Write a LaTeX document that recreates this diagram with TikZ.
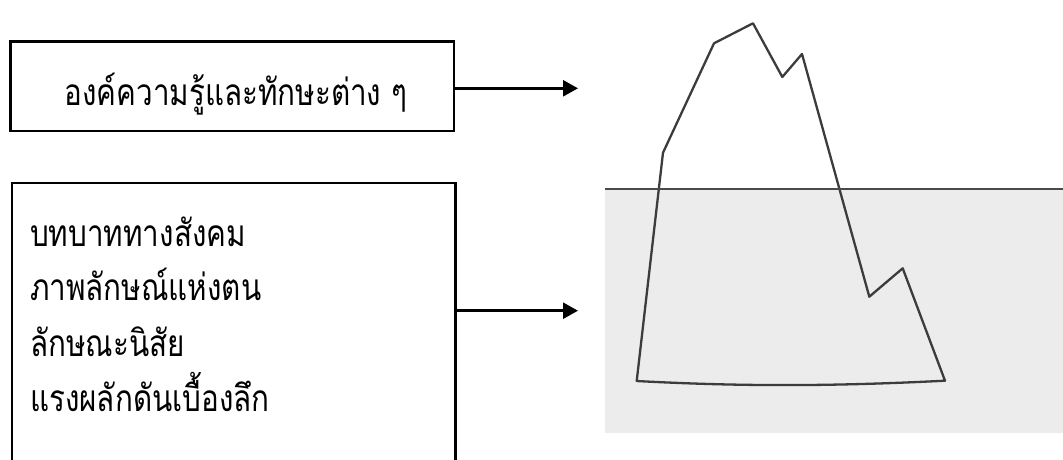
\documentclass[tikz,border=0pt]{standalone}
\usepackage{fontspec}
\newfontfamily\thaifont[Script=Thai, FakeStretch=0.8]{Loma}
\usetikzlibrary{arrows.meta}
\definecolor{sea}{HTML}{ECECEC}
\definecolor{iceline}{HTML}{3C3C3C}
\definecolor{surface}{HTML}{4A4A4A}
\tikzset{
  box/.style={draw=black, line width=2.5pt, inner sep=0pt},
  label/.style={font=\thaifont\fontsize{37}{42}\selectfont, inner sep=0pt},
  pointer/.style={line width=2.5pt, -{Triangle[length=15pt,width=16pt]}},
  ice/.style={draw=iceline, line width=2.3pt, line join=round},
  waterline/.style={draw=surface, line width=2.6pt},
}
\begin{document}
\begin{tikzpicture}[x=1pt,y=-1pt]
\useasboundingbox (0,0) rectangle (1063,459);
\clip (0,0) rectangle (1063,459);

% sea below the surface
\fill[sea] (605,189) rectangle (1063,432.5);

% iceberg outline
\draw[ice] (663,152.7) -- (714,43.3) -- (753,23.3) -- (782.3,77) -- (802,54)
  -- (869.3,296.7) -- (902.7,268.3) -- (945,380.7)
  .. controls (830,386.5) and (740,386.5) .. (636.7,381) -- cycle;

% water surface
\draw[waterline] (605,189) -- (1063,189);

% upper box: visible part
\node[box, minimum width=443.5pt, minimum height=89.9pt] (top) at (232.25,86.25) {};
\node[label, anchor=base] (toptext) at (236,105) {องค์ความรู้และทักษะต่าง ๆ};

% lower box: hidden part, runs past the bottom edge
\node[box, minimum width=443.5pt, minimum height=320pt, anchor=north west] (bottom) at (10.5,181.5) {};
\node[label, anchor=base west] (l1) at (30,246) {บทบาททางสังคม};
\node[label, anchor=base west] (l2) at (30,300) {ภาพลักษณ์แห่งตน};
\node[label, anchor=base west] (l3) at (30,356) {ลักษณะนิสัย};
\node[label, anchor=base west] (l4) at (30,411) {แรงผลักดันเบื้องลึก};

% arrows towards the iceberg
\coordinate (t1) at (578,88.3);
\coordinate (t2) at (578,310.7);
\draw[pointer] (top.east |- t1) -- (t1);
\draw[pointer] (bottom.east |- t2) -- (t2);
\end{tikzpicture}
\end{document}
